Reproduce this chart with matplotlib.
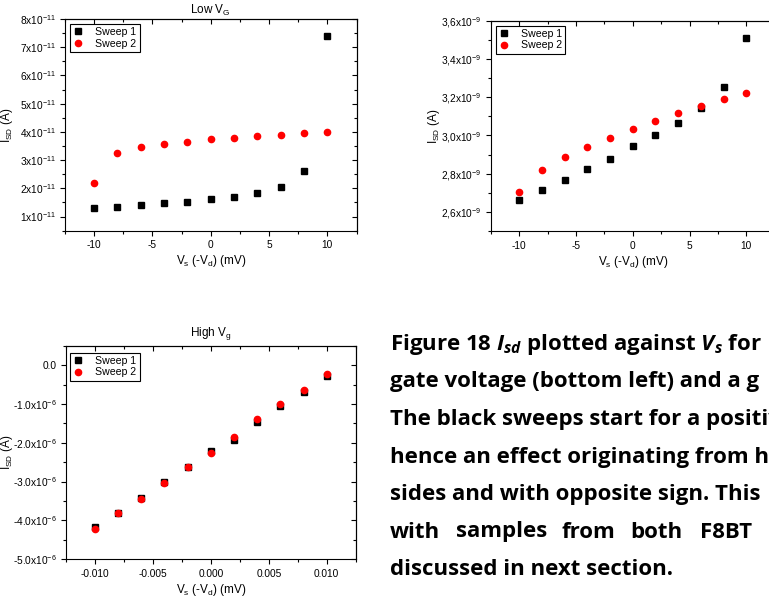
import numpy as np
import matplotlib
matplotlib.use("Agg")
import matplotlib.pyplot as plt
from matplotlib.ticker import AutoMinorLocator

# %% Measured data: source-drain current vs source voltage, two sweeps each
vs_mv = [-10, -8, -6, -4, -2, 0, 2, 4, 6, 8, 10]
vs_high = [-0.010, -0.008, -0.006, -0.004, -0.002, 0.0, 0.002, 0.004, 0.006, 0.008, 0.010]

# Low gate voltage (units of 1e-11 A)
low_sweep1 = [1.31, 1.35, 1.40, 1.47, 1.51, 1.62, 1.70, 1.83, 2.05, 2.63, 7.41]
low_sweep2 = [2.18, 3.24, 3.48, 3.57, 3.66, 3.74, 3.79, 3.84, 3.90, 3.95, 3.99]

# Intermediate gate voltage (units of 1e-9 A)
mid_sweep1 = [2.660, 2.712, 2.767, 2.823, 2.879, 2.942, 3.000, 3.065, 3.144, 3.254, 3.509]
mid_sweep2 = [2.705, 2.818, 2.889, 2.940, 2.989, 3.035, 3.077, 3.116, 3.154, 3.189, 3.223]

# High gate voltage (units of 1e-6 A)
high_sweep1 = [-4.18, -3.81, -3.42, -3.02, -2.63, -2.22, -1.92, -1.46, -1.05, -0.68, -0.27]
high_sweep2 = [-4.23, -3.81, -3.44, -3.04, -2.63, -2.25, -1.85, -1.39, -0.99, -0.63, -0.23]

# Tick values and labels
low_yticks = [1, 2, 3, 4, 5, 6, 7, 8]
low_ylabels = [r"%dx$\mathdefault{10^{-11}}$" % v for v in low_yticks]
mid_yticks = [2.6, 2.8, 3.0, 3.2, 3.4, 3.6]
mid_ylabels = [r"2,6x$\mathdefault{10^{-9}}$", r"2,8x$\mathdefault{10^{-9}}$",
               r"3,0x$\mathdefault{10^{-9}}$", r"3,2x$\mathdefault{10^{-9}}$",
               r"3,4x$\mathdefault{10^{-9}}$", r"3,6x$\mathdefault{10^{-9}}$"]
high_yticks = [0, -1, -2, -3, -4, -5]
high_ylabels = ["0.0", r"-1.0x$\mathdefault{10^{-6}}$", r"-2.0x$\mathdefault{10^{-6}}$",
                r"-3.0x$\mathdefault{10^{-6}}$", r"-4.0x$\mathdefault{10^{-6}}$",
                r"-5.0x$\mathdefault{10^{-6}}$"]
mv_xticks = [-10, -5, 0, 5, 10]
high_xticks = [-0.010, -0.005, 0.0, 0.005, 0.010]
high_xlabels = ["-0.010", "-0.005", "0.000", "0.005", "0.010"]

caption_lines = [
    r"Figure 18 $I_{sd}$ plotted against $V_s$ for",
    "gate voltage (bottom left) and a g",
    "The black sweeps start for a positiv",
    "hence an effect originating from h",
    "sides and with opposite sign. This",
    None,
    "discussed in next section.",
]
justified_words = ["with", "samples", "from", "both", "F8BT", "P"]

# %% Style
plt.rcParams["font.family"] = ["Liberation Sans", "DejaVu Sans"]
plt.rcParams["axes.unicode_minus"] = False
plt.rcParams["mathtext.fontset"] = "custom"
plt.rcParams["mathtext.it"] = "Open Sans:italic:bold"
plt.rcParams["mathtext.rm"] = "Open Sans:bold"
plt.rcParams["axes.linewidth"] = 0.8

W, H = 769, 601
fig = plt.figure(figsize=(W / 100, H / 100), dpi=100)


def px_axes(left, top, right, bottom):
    return fig.add_axes([left / W, 1 - bottom / H, (right - left) / W, (bottom - top) / H])


def style_axes(ax, ylab_x_px):
    ax.tick_params(which="both", direction="out", labelsize=7.3, top=False, right=False)
    ax.tick_params(which="major", length=3.5, width=0.8)
    ax.tick_params(which="minor", length=2, width=0.8)
    # mirrored ticks on top and right point inwards
    sec_x = ax.secondary_xaxis("top")
    sec_y = ax.secondary_yaxis("right")
    for sec in (sec_x, sec_y):
        sec.tick_params(which="both", direction="in", labelsize=0, width=0.8)
        sec.tick_params(which="major", length=3.5)
        sec.tick_params(which="minor", length=2)
    sec_x.set_xticks(ax.get_xticks(), [""] * len(ax.get_xticks()))
    sec_x.xaxis.set_minor_locator(AutoMinorLocator(2))
    sec_y.set_yticks(ax.get_yticks(), [""] * len(ax.get_yticks()))
    sec_y.yaxis.set_minor_locator(AutoMinorLocator(2))
    ax.yaxis.set_label_coords(ylab_x_px, 0.5)


def add_legend(ax, dx_px, dy_px, w_px, h_px):
    leg = ax.legend(loc="upper left", bbox_to_anchor=(dx_px / w_px, 1 - dy_px / h_px),
                    borderaxespad=0, frameon=True, fancybox=False, edgecolor="black",
                    framealpha=1, fontsize=7.6, handlelength=1.0, handletextpad=1.1,
                    borderpad=0.3, labelspacing=0.15)
    leg.get_frame().set_linewidth(0.8)


# %% Low V_G panel
ax1 = px_axes(65, 19, 356.5, 230.7)
ax1.plot(vs_mv, np.array(low_sweep1) * 1e-11, "s", color="black", ms=4, label="Sweep 1")
ax1.plot(vs_mv, np.array(low_sweep2) * 1e-11, "o", color="red", ms=4.5, label="Sweep 2")
ax1.set_xlim(-12.5, 12.5)
ax1.set_ylim(0.5e-11, 8.0e-11)
ax1.set_xticks(mv_xticks)
ax1.set_yticks(np.array(low_yticks) * 1e-11, low_ylabels)
ax1.xaxis.set_minor_locator(AutoMinorLocator(2))
ax1.yaxis.set_minor_locator(AutoMinorLocator(2))
ax1.set_title(r"Low V$_\mathdefault{G}$", fontsize=8.5, pad=4)
ax1.set_xlabel(r"V$_\mathdefault{s}$ (-V$_\mathdefault{d}$) (mV)", fontsize=8.5, labelpad=2)
ax1.set_ylabel(r"I$_\mathdefault{SD}$ (A)", fontsize=8.5)
style_axes(ax1, -50 / 291.5)
add_legend(ax1, 5, 5, 291.5, 211.7)

# %% Intermediate V_G panel (runs past the right edge)
ax2 = px_axes(490.7, 20.7, 774.7, 231)
ax2.plot(vs_mv, np.array(mid_sweep1) * 1e-9, "s", color="black", ms=4, label="Sweep 1")
ax2.plot(vs_mv, np.array(mid_sweep2) * 1e-9, "o", color="red", ms=4.5, label="Sweep 2")
ax2.set_xlim(-12.5, 12.5)
ax2.set_ylim(2.5e-9, 3.6e-9)
ax2.set_xticks(mv_xticks)
ax2.set_yticks(np.array(mid_yticks) * 1e-9, mid_ylabels)
ax2.xaxis.set_minor_locator(AutoMinorLocator(2))
ax2.yaxis.set_minor_locator(AutoMinorLocator(2))
ax2.set_xlabel(r"V$_\mathdefault{s}$ (-V$_\mathdefault{d}$) (mV)", fontsize=8.5, labelpad=2)
ax2.set_ylabel(r"I$_\mathdefault{SD}$ (A)", fontsize=8.5)
style_axes(ax2, -49 / 284)
add_legend(ax2, 5, 5, 284, 210.3)

# %% High V_g panel
ax3 = px_axes(66, 346, 355.7, 559)
ax3.plot(vs_high, np.array(high_sweep1) * 1e-6, "s", color="black", ms=4, label="Sweep 1")
ax3.plot(vs_high, np.array(high_sweep2) * 1e-6, "o", color="red", ms=4.5, label="Sweep 2")
ax3.set_xlim(-0.0125, 0.0125)
ax3.set_ylim(-5e-6, 0.5e-6)
ax3.set_xticks(high_xticks, high_xlabels)
ax3.set_yticks(np.array(high_yticks) * 1e-6, high_ylabels)
ax3.xaxis.set_minor_locator(AutoMinorLocator(2))
ax3.yaxis.set_minor_locator(AutoMinorLocator(2))
ax3.set_title(r"High V$_\mathdefault{g}$", fontsize=8.5, pad=7)
ax3.set_xlabel(r"V$_\mathdefault{s}$ (-V$_\mathdefault{d}$) (mV)", fontsize=8.5, labelpad=2)
ax3.set_ylabel(r"I$_\mathdefault{SD}$ (A)", fontsize=8.5)
style_axes(ax3, -51 / 289.7)
add_legend(ax3, 4, 6.7, 289.7, 213)

# %% Caption text
cap_kw = dict(fontsize=16, fontweight="bold", family=["Open Sans", "DejaVu Sans"],
              va="baseline", ha="left")
x0 = 389.5
for i, line in enumerate(caption_lines):
    y = 350 + 37.5 * i
    if line is None:
        continue
    fig.text(x0 / W, 1 - y / H, line, **cap_kw)

word_x = [389.5, 456, 561, 630.7, 700, 766.7]
for word, wx in zip(justified_words, word_x):
    fig.text(wx / W, 1 - (350 + 37.5 * 5) / H, word, **cap_kw)

fig.savefig("out.png", dpi=100)
